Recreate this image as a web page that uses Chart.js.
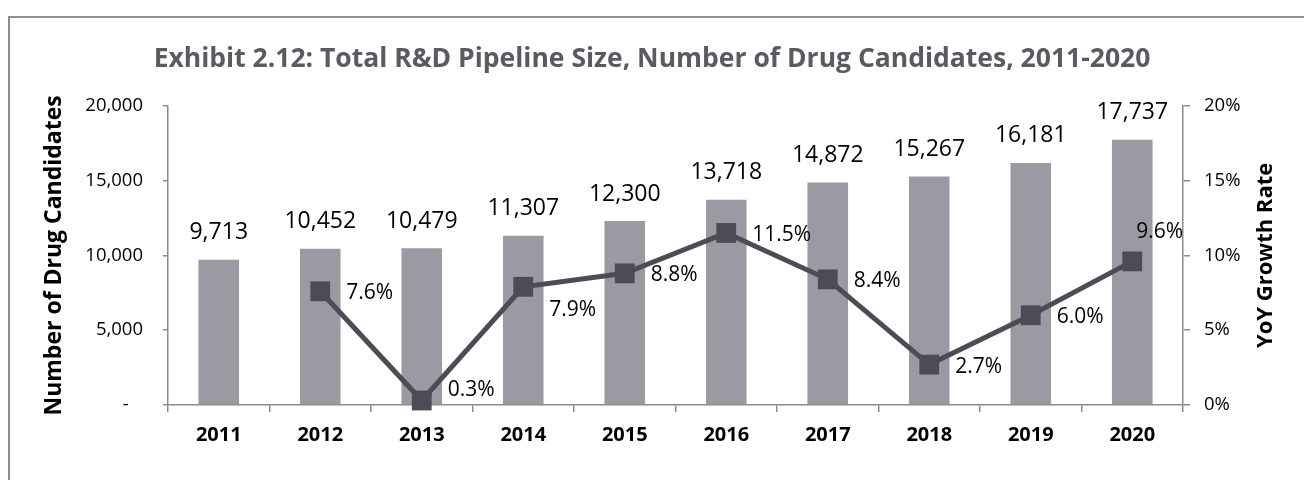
<!DOCTYPE html>
<html lang="en">

<head>
    <meta charset="UTF-8">
    <title>Exhibit 2.12</title>
    <style>
        html, body { margin: 0; padding: 0; background: #fff; }
        #wrap { position: relative; width: 1304px; height: 480px; overflow: hidden; }
        #frame {
            position: absolute; left: 8px; top: 16px; width: 1400px; height: 600px;
            border-left: 2px solid #8e8e8e; border-top: 2px solid #8e8e8e;
        }
        #mychart { position: absolute; left: 0; top: 0; }
    </style>
</head>

<body>
    <div id="wrap">
        <div id="frame"></div>
        <canvas id="mychart" width="1304" height="480"></canvas>
    </div>

    <script src="https://cdn.jsdelivr.net/npm/chart.js@4.4.1/dist/chart.umd.min.js"></script>
    <script>
        var years = ['2011', '2012', '2013', '2014', '2015', '2016', '2017', '2018', '2019', '2020'];
        var candidates = [9713, 10452, 10479, 11307, 12300, 13718, 14872, 15267, 16181, 17737];
        var growth = [null, 7.6, 0.3, 7.9, 8.8, 11.5, 8.4, 2.7, 6.0, 9.6];
        var leftTicks = [0, 5000, 10000, 15000, 20000];
        var rightTicks = [0, 5, 10, 15, 20];

        // where the % label sits next to each marker
        var growthLabelPos = [null, 'right', 'rightUp', 'rightDown', 'right', 'right', 'right', 'right', 'right', 'above'];

        var FONT = "'Open Sans', 'Noto Sans', sans-serif";
        var barColor = '#9b9aa3';
        var lineColor = '#4b4c55';
        var axisColor = '#8c8c8c';

        var labelPlugin = {
            id: 'labels',
            afterDatasetsDraw: function (chart) {
                var ctx = chart.ctx;
                ctx.save();
                ctx.fillStyle = '#000';
                ctx.textBaseline = 'middle';

                // bar values
                ctx.font = '23px ' + FONT;
                ctx.textAlign = 'center';
                chart.getDatasetMeta(1).data.forEach(function (bar, i) {
                    ctx.fillText(candidates[i].toLocaleString('en-US'), bar.x, bar.y - 27);
                });

                // growth values
                ctx.font = '21px ' + FONT;
                ctx.textAlign = 'left';
                chart.getDatasetMeta(0).data.forEach(function (pt, i) {
                    if (growth[i] == null) return;
                    var txt = growth[i].toFixed(1) + '%';
                    var dx = 26, dy = 2;
                    if (growthLabelPos[i] == 'rightUp') dy = -10;
                    if (growthLabelPos[i] == 'rightDown') dy = 23;
                    if (growthLabelPos[i] == 'above') { dx = 4; dy = -29; }
                    ctx.fillText(txt, pt.x + dx, pt.y + dy);
                });

                // right axis title reads bottom-to-top like the left one
                var a = chart.chartArea;
                ctx.font = 'bold 22px ' + FONT;
                ctx.textAlign = 'center';
                ctx.translate(1266, (a.top + a.bottom) / 2);
                ctx.rotate(-Math.PI / 2);
                ctx.fillText('YoY Growth Rate', 0, 0);
                ctx.restore();
            }
        };

        var ctx = document.getElementById('mychart');

        var mychart = new Chart(ctx, {
            type: 'bar',
            data: {
                labels: years,
                datasets: [{
                    type: 'line',
                    label: 'YoY Growth Rate',
                    data: growth,
                    yAxisID: 'y1',
                    borderColor: lineColor,
                    backgroundColor: lineColor,
                    borderWidth: 5,
                    pointStyle: 'rect',
                    pointRadius: 14,
                    pointBorderWidth: 0,
                    pointBackgroundColor: lineColor,
                    tension: 0,
                    clip: false,
                    order: 0
                }, {
                    label: 'Number of Drug Candidates',
                    data: candidates,
                    yAxisID: 'y',
                    backgroundColor: barColor,
                    barPercentage: 0.4,
                    categoryPercentage: 1,
                    order: 1
                }]
            },
            options: {
                responsive: false,
                animation: false,
                devicePixelRatio: 1,
                layout: { padding: 0 },
                plugins: {
                    legend: { display: false },
                    tooltip: { enabled: false },
                    title: {
                        display: true,
                        text: 'Exhibit 2.12: Total R&D Pipeline Size, Number of Drug Candidates, 2011-2020',
                        color: '#595a62',
                        font: { family: FONT, size: 26.5, weight: 'bold' },
                        padding: { top: 44, bottom: 30 }
                    }
                },
                scales: {
                    x: {
                        grid: { offset: true, drawOnChartArea: false, tickLength: 7, color: axisColor, lineWidth: 1.5 },
                        border: { color: axisColor, width: 1.5 },
                        ticks: { color: '#000', padding: 11, font: { family: FONT, size: 20, weight: 'bold' } },
                        afterFit: function (s) { s.height = 75; }
                    },
                    y: {
                        position: 'left',
                        min: 0,
                        max: 20000,
                        afterBuildTicks: function (s) { s.ticks = leftTicks.map(function (v) { return { value: v }; }); },
                        ticks: {
                            color: '#000',
                            padding: 20,
                            font: { family: FONT, size: 18.5 },
                            callback: function (v) { return v === 0 ? '-   ' : v.toLocaleString('en-US'); }
                        },
                        grid: { drawOnChartArea: false, tickLength: 5, color: axisColor, lineWidth: 1.5 },
                        border: { color: axisColor, width: 1.5 },
                        title: {
                            display: true,
                            text: 'Number of Drug Candidates',
                            color: '#000',
                            font: { family: FONT, size: 23, weight: 'bold' },
                            padding: { top: 41, bottom: 0 }
                        },
                        afterFit: function (s) { s.width = 168; }
                    },
                    y1: {
                        position: 'right',
                        min: 0,
                        max: 20,
                        afterBuildTicks: function (s) { s.ticks = rightTicks.map(function (v) { return { value: v }; }); },
                        ticks: {
                            color: '#000',
                            padding: 14,
                            font: { family: FONT, size: 18.5 },
                            callback: function (v) { return v + '%'; }
                        },
                        grid: { drawOnChartArea: false, tickLength: 7, color: axisColor, lineWidth: 1.5 },
                        border: { color: axisColor, width: 1.5 },
                        afterFit: function (s) { s.width = 121; }
                    }
                }
            },
            plugins: [labelPlugin]
        });
    </script>
</body>

</html>
